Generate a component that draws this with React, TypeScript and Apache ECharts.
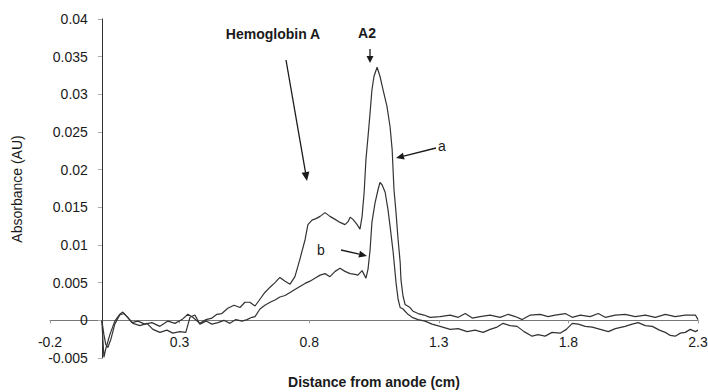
import React, { useEffect, useRef } from "react";
import * as echarts from "echarts";

const xTicks = [-0.2, 0.3, 0.8, 1.3, 1.8, 2.3];

const curveAX = [0, 0.004, 0.008, 0.015, 0.031, 0.05, 0.069, 0.081, 0.097, 0.116, 0.139, 0.166, 0.193, 0.224, 0.255, 0.282, 0.309, 0.332, 0.351, 0.378, 0.402, 0.425, 0.444, 0.463, 0.486, 0.51, 0.533, 0.552, 0.571, 0.591, 0.61, 0.629, 0.649, 0.668, 0.687, 0.707, 0.726, 0.745, 0.764, 0.784, 0.795, 0.811, 0.826, 0.842, 0.861, 0.88, 0.9, 0.919, 0.938, 0.95, 0.958, 0.969, 0.985, 0.996, 1.004, 1.012, 1.019, 1.027, 1.035, 1.042, 1.05, 1.062, 1.073, 1.085, 1.1, 1.112, 1.12, 1.127, 1.135, 1.143, 1.151, 1.154, 1.162, 1.17, 1.189, 1.201, 1.22, 1.243, 1.266, 1.305, 1.344, 1.375, 1.402, 1.429, 1.459, 1.498, 1.537, 1.568, 1.595, 1.622, 1.653, 1.691, 1.722, 1.749, 1.788, 1.815, 1.846, 1.884, 1.915, 1.942, 1.981, 2.019, 2.058, 2.097, 2.135, 2.174, 2.212, 2.251, 2.29, 2.3];
const curveAY = [0, -0.0025, -0.0049, -0.0038, -0.0019, -0.0001, 0.0008, 0.0011, 0.0005, -0.0003, -0.0001, -0.0005, -0.0003, -0.0008, -0.0001, -0.0004, 0.0001, 0.0008, 0.0004, -0.0004, 0.0001, 0.0003, 0.0008, 0.0009, 0.0016, 0.002, 0.0017, 0.0024, 0.0024, 0.0019, 0.0028, 0.0037, 0.0044, 0.005, 0.0057, 0.0052, 0.0048, 0.0058, 0.0081, 0.0107, 0.0127, 0.0133, 0.0135, 0.0138, 0.0143, 0.0138, 0.0134, 0.013, 0.0127, 0.0131, 0.0137, 0.0134, 0.0127, 0.0121, 0.0138, 0.017, 0.0214, 0.0244, 0.0276, 0.0306, 0.0324, 0.0336, 0.0324, 0.0306, 0.0284, 0.0257, 0.0227, 0.0174, 0.0143, 0.0107, 0.0077, 0.0054, 0.0032, 0.0021, 0.0017, 0.0012, 0.0009, 0.0007, 0.0004, 0.0005, 0.0007, 0.0004, 0.0009, 0.0003, 0.0005, 0.0007, 0.0004, 0.0008, 0.0005, 0.0001, 0.0007, 0.0008, 0.0005, 0.0007, 0.0009, 0.0004, 0.0007, 0.0005, 0.0009, 0.0004, 0.0007, 0.0008, 0.0005, 0.0007, 0.0004, 0.0008, 0.0005, 0.0007, 0.0007, 0.0001];

const curveBX = [0, 0.008, 0.015, 0.023, 0.035, 0.05, 0.069, 0.085, 0.1, 0.12, 0.147, 0.174, 0.197, 0.224, 0.251, 0.274, 0.301, 0.324, 0.34, 0.359, 0.378, 0.402, 0.425, 0.448, 0.471, 0.494, 0.517, 0.541, 0.56, 0.579, 0.591, 0.61, 0.629, 0.649, 0.668, 0.687, 0.707, 0.726, 0.745, 0.764, 0.784, 0.803, 0.822, 0.842, 0.861, 0.88, 0.9, 0.919, 0.938, 0.958, 0.977, 0.988, 1.004, 1.019, 1.027, 1.035, 1.042, 1.054, 1.066, 1.073, 1.081, 1.093, 1.104, 1.112, 1.124, 1.135, 1.143, 1.151, 1.162, 1.181, 1.197, 1.22, 1.247, 1.274, 1.305, 1.344, 1.375, 1.409, 1.44, 1.471, 1.498, 1.525, 1.548, 1.575, 1.602, 1.629, 1.66, 1.683, 1.71, 1.737, 1.768, 1.792, 1.815, 1.838, 1.865, 1.892, 1.923, 1.954, 1.981, 2.019, 2.046, 2.069, 2.097, 2.124, 2.151, 2.174, 2.193, 2.212, 2.232, 2.251, 2.27, 2.29, 2.3];
const curveBY = [0, -0.0019, -0.0032, -0.0036, -0.0025, -0.0005, 0.0007, 0.0009, 0.0004, -0.0004, -0.0007, -0.0004, -0.0012, -0.0016, -0.0013, -0.0017, -0.0015, -0.0016, 0.0004, 0.0007, -0.0005, -0.0001, -0.0005, -0.0003, 0, -0.0004, 0.0001, -0.0001, 0.0001, 0.0004, 0.0005, 0.0015, 0.002, 0.0024, 0.0027, 0.0031, 0.0033, 0.0037, 0.0041, 0.0045, 0.0049, 0.0052, 0.0056, 0.006, 0.0062, 0.0058, 0.0065, 0.0069, 0.0065, 0.0062, 0.0061, 0.006, 0.0066, 0.0056, 0.0068, 0.0094, 0.013, 0.0156, 0.0174, 0.0183, 0.018, 0.017, 0.0147, 0.0125, 0.009, 0.005, 0.0028, 0.0017, 0.0015, 0.0008, 0.0004, 0.0001, -0.0001, -0.0005, -0.0008, -0.0012, -0.0011, -0.0015, -0.0013, -0.0016, -0.0012, -0.0009, -0.0004, -0.0007, -0.0008, -0.0015, -0.0021, -0.0019, -0.0021, -0.0016, -0.0017, -0.0012, -0.0004, -0.0005, -0.0008, -0.0009, -0.0012, -0.0015, -0.0011, -0.0008, -0.0005, -0.0003, -0.0007, -0.0008, -0.0013, -0.0016, -0.002, -0.0021, -0.0017, -0.0016, -0.0012, -0.0015, -0.0013];

const FONT = "Liberation Sans, Arial, sans-serif";
const INK = "#1a1a1a";

const W = 708, H = 392;
const G = { left: 50, right: 10, top: 19, bottom: 34 };
const X_MIN = -0.2, X_MAX = 2.3, Y_MIN = -0.005, Y_MAX = 0.04;

function arrow(x1: number, y1: number, x2: number, y2: number, head = 8, w = 3.5) {
  const dx = x2 - x1, dy = y2 - y1;
  const len = Math.sqrt(dx * dx + dy * dy);
  const ux = dx / len, uy = dy / len;
  const bx = x2 - ux * head, by = y2 - uy * head;
  return [
    { type: "line", shape: { x1, y1, x2: bx, y2: by }, style: { stroke: INK, lineWidth: 1.3 } },
    {
      type: "polygon",
      shape: { points: [[x2, y2], [bx - uy * w, by + ux * w], [bx + uy * w, by - ux * w]] },
      style: { fill: INK },
    },
  ];
}

export default function App() {
  const ref = useRef<HTMLDivElement>(null);
  useEffect(() => {
    if (!ref.current) return;
    const chart = echarts.init(ref.current, null, { renderer: "svg" });
    const a = curveAX.map((x, i) => [x, curveAY[i]]);
    const b = curveBX.map((x, i) => [x, curveBY[i]]);
    const gw = W - G.left - G.right;
    const gh = H - G.top - G.bottom;
    const yOffset = -((0 - X_MIN) / (X_MAX - X_MIN)) * gw;
    const xOffset = -((0 - Y_MIN) / (Y_MAX - Y_MIN)) * gh;
    chart.setOption({
      animation: false,
      backgroundColor: "#fff",
      grid: { ...G, containLabel: false, outerBoundsMode: "none" },
      xAxis: {
        type: "value",
        min: X_MIN,
        max: X_MAX,
        offset: xOffset,
        axisLine: { onZero: false, lineStyle: { color: "#777", width: 1 } },
        axisTick: { show: true, length: 3, customValues: xTicks, lineStyle: { color: "#999" } },
        axisLabel: { customValues: xTicks, margin: 15, fontSize: 14, lineHeight: 14, fontFamily: FONT, color: INK, formatter: (v: number) => String(Math.round(v * 10) / 10) },
        splitLine: { show: false },
      },
      yAxis: {
        type: "value",
        min: Y_MIN,
        max: Y_MAX,
        interval: 0.005,
        offset: yOffset,
        axisLine: { show: true, onZero: false, lineStyle: { color: "#333", width: 1 } },
        axisTick: { show: true, length: 4, lineStyle: { color: "#aaa" } },
        axisLabel: { margin: 14, fontSize: 14, lineHeight: 14, fontFamily: FONT, color: INK, formatter: (v: number) => String(Math.round(v * 1000) / 1000) },
        splitLine: { show: false },
      },
      series: [
        { type: "line", data: a, showSymbol: false, lineStyle: { color: "#333", width: 1.2 }, z: 3 },
        { type: "line", data: b, showSymbol: false, lineStyle: { color: "#333", width: 1.2 }, z: 3 },
      ],
      graphic: [
        { type: "text", x: 17, y: 189, rotation: Math.PI / 2, style: { text: "Absorbance (AU)", fontSize: 14, fontFamily: FONT, fill: INK, align: "center", verticalAlign: "middle" } },
        { type: "text", x: 374, y: 382, style: { text: "Distance from anode (cm)", fontSize: 14, fontWeight: "bold", fontFamily: FONT, fill: INK, align: "center", verticalAlign: "middle" } },
        { type: "text", x: 273, y: 34, style: { text: "Hemoglobin A", fontSize: 14, fontWeight: "bold", fontFamily: FONT, fill: INK, align: "center", verticalAlign: "middle" } },
        { type: "text", x: 367, y: 33, style: { text: "A2", fontSize: 14, fontWeight: "bold", fontFamily: FONT, fill: INK, align: "center", verticalAlign: "middle" } },
        { type: "text", x: 442, y: 146, style: { text: "a", fontSize: 14, fontFamily: FONT, fill: INK, align: "center", verticalAlign: "middle" } },
        { type: "text", x: 321, y: 250, style: { text: "b", fontSize: 14, fontFamily: FONT, fill: INK, align: "center", verticalAlign: "middle" } },
        ...arrow(370, 49, 370, 63, 7, 3.5),
        ...arrow(286, 60, 307, 181, 9, 4),
        ...arrow(436, 148, 396, 158, 8, 3.5),
        ...arrow(341, 250, 367, 256, 8, 3.5),
      ],
    });
    return () => chart.dispose();
  }, []);
  return <div ref={ref} style={{ width: W, height: H, position: "absolute", left: 0, top: 0 }} />;
}
